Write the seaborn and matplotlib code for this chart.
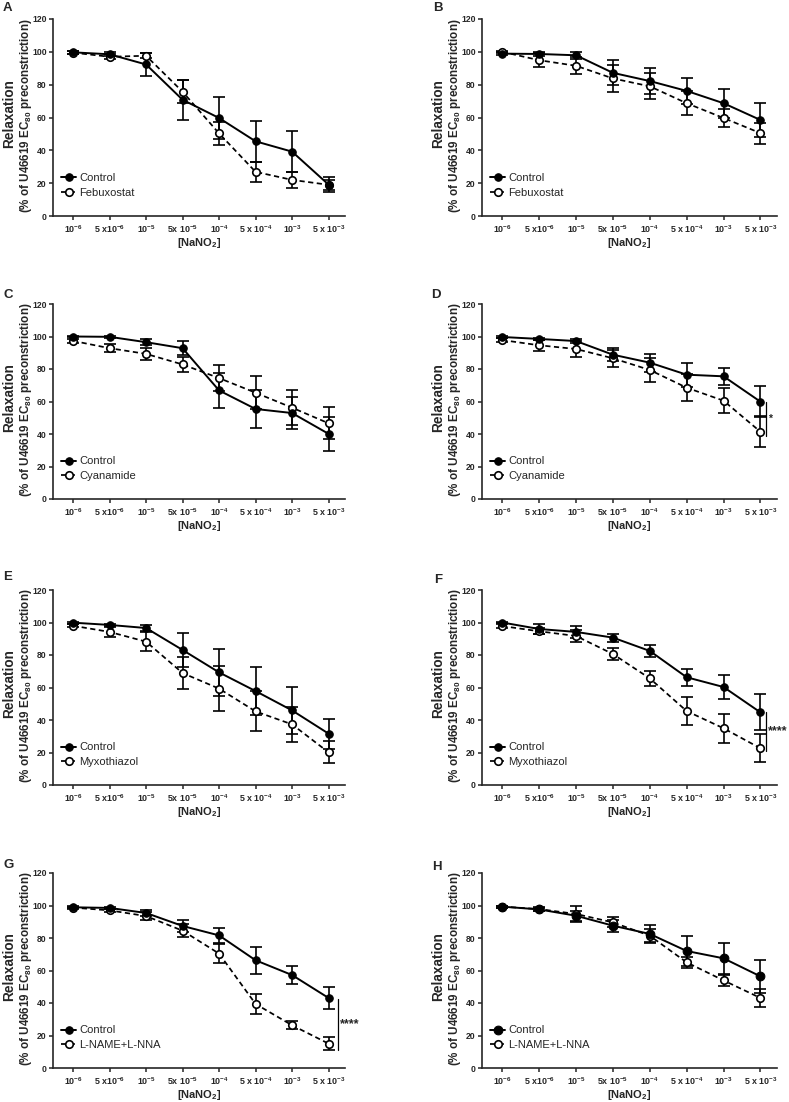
import numpy as np
import pandas as pd
import matplotlib
matplotlib.use("Agg")
import matplotlib.pyplot as plt
import seaborn as sns

# ---------------- data ----------------
conc_labels = ["10$^{-6}$", "5 x10$^{-6}$", "10$^{-5}$", "5x 10$^{-5}$",
               "10$^{-4}$", "5 x 10$^{-4}$", "10$^{-3}$", "5 x 10$^{-3}$"]
panel_letters = ["A", "B", "C", "D", "E", "F", "G", "H"]
treatments = ["Febuxostat", "Febuxostat", "Cyanamide", "Cyanamide",
              "Myxothiazol", "Myxothiazol", "L-NAME+L-NNA", "L-NAME+L-NNA"]

A_ctrl = [99.7, 98.5, 92.3, 70.8, 59.7, 45.5, 39.2, 19.1]
A_ctrl_err = [0.8, 1.2, 6.8, 12.3, 12.7, 12.5, 12.5, 4.5]
A_trt = [99.5, 97.0, 97.6, 75.7, 50.3, 26.9, 22.0, 19.0]
A_trt_err = [0.8, 1.5, 1.5, 7.0, 7.0, 6.0, 5.0, 3.0]

B_ctrl = [98.9, 98.7, 97.9, 87.2, 82.2, 76.2, 68.7, 58.5]
B_ctrl_err = [1.0, 1.2, 2.2, 7.7, 7.8, 8.0, 8.7, 10.2]
B_trt = [100.0, 94.9, 91.5, 83.8, 79.0, 68.7, 59.7, 50.5]
B_trt_err = [0.5, 4.2, 5.3, 8.0, 8.0, 7.4, 5.4, 6.4]

C_ctrl = [100.0, 99.8, 96.5, 92.8, 66.8, 55.4, 52.9, 40.1]
C_ctrl_err = [0.5, 0.6, 2.0, 4.3, 10.6, 11.4, 10.0, 10.4]
C_trt = [97.3, 92.8, 89.3, 82.8, 74.4, 65.4, 56.2, 46.6]
C_trt_err = [1.0, 2.4, 3.7, 4.7, 8.2, 10.2, 10.8, 9.8]

D_ctrl = [99.7, 98.5, 97.2, 88.8, 83.9, 76.5, 75.5, 59.9]
D_ctrl_err = [0.6, 0.8, 1.5, 4.1, 5.5, 7.4, 5.1, 9.4]
D_trt = [97.8, 94.6, 92.3, 86.6, 79.4, 68.5, 60.5, 41.4]
D_trt_err = [1.0, 3.3, 5.1, 5.2, 7.6, 8.4, 7.8, 9.4]

E_ctrl = [99.9, 98.5, 96.6, 83.1, 69.3, 57.8, 45.9, 31.6]
E_ctrl_err = [0.6, 0.8, 1.7, 10.4, 14.6, 15.0, 14.6, 9.2]
E_trt = [98.0, 94.2, 88.2, 68.9, 59.3, 45.3, 37.3, 20.1]
E_trt_err = [1.0, 3.1, 5.7, 9.6, 14.0, 12.3, 10.8, 6.8]

F_ctrl = [100.0, 96.0, 94.2, 90.7, 82.5, 66.3, 60.3, 44.7]
F_ctrl_err = [0.6, 3.3, 3.7, 2.5, 3.7, 5.1, 7.2, 11.1]
F_trt = [97.8, 94.6, 91.7, 80.6, 65.6, 45.5, 34.9, 22.6]
F_trt_err = [1.0, 1.9, 3.9, 3.7, 4.5, 8.6, 8.8, 8.6]

G_ctrl = [98.9, 98.5, 95.4, 87.4, 81.6, 66.3, 57.2, 43.1]
G_ctrl_err = [0.6, 0.8, 1.6, 3.7, 4.7, 8.2, 5.7, 7.0]
G_trt = [98.7, 97.0, 93.5, 84.5, 70.4, 39.4, 26.3, 15.0]
G_trt_err = [0.6, 1.0, 2.4, 3.9, 5.7, 6.2, 2.5, 4.1]

H_ctrl = [99.3, 97.6, 93.7, 87.6, 82.5, 72.0, 67.5, 56.4]
H_ctrl_err = [0.6, 1.0, 3.1, 3.7, 5.7, 9.0, 9.4, 10.1]
H_trt = [99.3, 97.8, 94.8, 89.6, 81.4, 65.0, 53.9, 43.1]
H_trt_err = [0.6, 1.0, 5.0, 3.1, 4.1, 3.5, 3.6, 5.4]

# significance annotations: (y_top, y_bottom, text)
sig_D = (59.5, 39.0, "*")
sig_F = (44.7, 21.0, "****")
sig_G = (42.7, 11.3, "****")

ctrl_list = [A_ctrl, B_ctrl, C_ctrl, D_ctrl, E_ctrl, F_ctrl, G_ctrl, H_ctrl]
ctrl_err_list = [A_ctrl_err, B_ctrl_err, C_ctrl_err, D_ctrl_err,
                 E_ctrl_err, F_ctrl_err, G_ctrl_err, H_ctrl_err]
trt_list = [A_trt, B_trt, C_trt, D_trt, E_trt, F_trt, G_trt, H_trt]
trt_err_list = [A_trt_err, B_trt_err, C_trt_err, D_trt_err,
                E_trt_err, F_trt_err, G_trt_err, H_trt_err]
sig_map = {"D": sig_D, "F": sig_F, "G": sig_G}

# ---------------- style ----------------
sns.set_style("ticks")
plt.rcParams["font.family"] = ["Liberation Sans", "DejaVu Sans"]
plt.rcParams["font.weight"] = "bold"
plt.rcParams["mathtext.fontset"] = "custom"
plt.rcParams["mathtext.rm"] = "Liberation Sans:bold"
plt.rcParams["mathtext.it"] = "Liberation Sans:bold"
plt.rcParams["mathtext.bf"] = "Liberation Sans:bold"

W, H = 789, 1102
fig = plt.figure(figsize=(W / 100, H / 100), dpi=100)

col_px = [(53, 345), (482, 777)]
row_px = [(19, 216), (304, 499), (590, 785), (873, 1068)]
letter_px = [(3, 2), (433, 2), (3, 289), (431, 289),
             (3, 571), (434, 574), (3, 859), (432, 861)]

xpos = np.arange(len(conc_labels))

for i, letter in enumerate(panel_letters):
    r, c = divmod(i, 2)
    x0, x1 = col_px[c]
    y0, y1 = row_px[r]
    aw = x1 - x0
    ax = fig.add_axes([x0 / W, 1 - y1 / H, aw / W, (y1 - y0) / H])

    df_c = pd.DataFrame({"pos": xpos, "val": ctrl_list[i]})
    df_t = pd.DataFrame({"pos": xpos, "val": trt_list[i]})

    ax.errorbar(xpos, ctrl_list[i], yerr=ctrl_err_list[i], fmt="none",
                ecolor="black", elinewidth=1.2, capsize=4.2, capthick=1.2, zorder=2)
    ax.errorbar(xpos, trt_list[i], yerr=trt_err_list[i], fmt="none",
                ecolor="black", elinewidth=1.2, capsize=4.2, capthick=1.2, zorder=2)

    msize = 6.3 if letter == "H" else 5.4
    sns.lineplot(data=df_c, x="pos", y="val", ax=ax, color="black",
                 linewidth=1.4, marker="o", markersize=msize,
                 markerfacecolor="black", markeredgecolor="black",
                 label="Control", zorder=4)
    sns.lineplot(data=df_t, x="pos", y="val", ax=ax, color="black",
                 linewidth=1.25, linestyle=(0, (3, 2)), marker="o", markersize=5.4,
                 markerfacecolor="white", markeredgecolor="black",
                 markeredgewidth=1.2, label=treatments[i], zorder=3)

    ax.set_xlim(-0.55, 7.45)
    ax.set_ylim(0, 120)
    ax.set_yticks(np.arange(0, 121, 20))
    ax.set_xticks(xpos)
    ax.set_xticklabels(conc_labels, fontsize=6.4, fontweight="bold")
    ax.tick_params(axis="y", labelsize=6.2, length=3, width=1.1, pad=1.5)
    ax.tick_params(axis="x", length=3, width=1.1, pad=2.5)
    for lab in ax.get_yticklabels():
        lab.set_fontweight("bold")
    sns.despine(ax=ax)
    for sp in ["left", "bottom"]:
        ax.spines[sp].set_linewidth(1.2)
    ax.set_xlabel("[NaNO$_2$]", fontsize=8.0, fontweight="bold", labelpad=0.5)
    ax.set_ylabel("")
    # two-line y label, first line larger as in the reference
    ax.text(-44 / aw, 0.52, "Relaxation", rotation=90, transform=ax.transAxes,
            ha="center", va="center", fontsize=9.8, fontweight="bold")
    ax.text(-27 / aw, 0.51, "(% of U46619 EC$_{80}$ preconstriction)", rotation=90,
            transform=ax.transAxes, ha="center", va="center",
            fontsize=8.4, fontweight="bold")

    leg = ax.legend(loc="lower left", bbox_to_anchor=(0.028, 0.092), frameon=False,
                    fontsize=8, handlelength=1.35, handletextpad=0.3,
                    labelspacing=0.42, borderpad=0, borderaxespad=0)
    for t in leg.get_texts():
        t.set_fontweight("normal")

    if letter in sig_map:
        ytop, ybot, txt = sig_map[letter]
        xl = 7.14 if letter != "G" else 7.25
        ax.plot([xl, xl], [ybot, ytop], color="black", linewidth=0.9,
                clip_on=False)
        ax.text(xl + 0.06, (ytop + ybot) / 2, txt, fontsize=9 if txt != "*" else 7.5,
                fontweight="bold", ha="left", va="center", clip_on=False)

    lx, ly = letter_px[i]
    fig.text(lx / W, 1 - ly / H, letter, fontsize=9.5, fontweight="bold",
             ha="left", va="top")

fig.savefig("out.png", dpi=100)
